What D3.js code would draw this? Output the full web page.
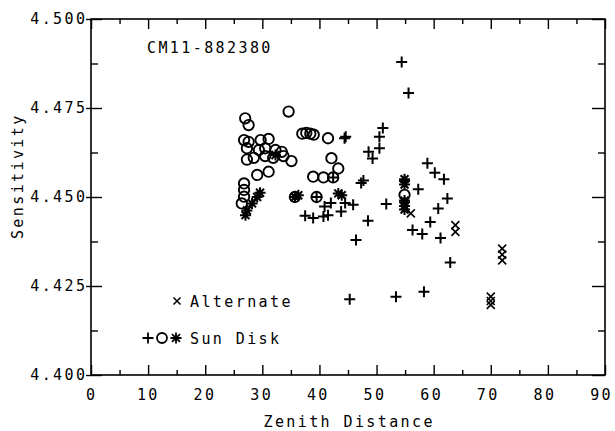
<!DOCTYPE html>
<html>
<head>
<meta charset="utf-8">
<script src="https://cdn.jsdelivr.net/npm/d3@7"></script>
<style>
  html, body { margin: 0; padding: 0; background: #fff; }
  svg { display: block; }
  text { font-family: "DejaVu Sans Mono", monospace; font-size: 15px; letter-spacing: 2.4px; fill: #000; }
</style>
</head>
<body>
<svg id="chart" width="615" height="431"></svg>
<script>
// ---------- data ----------
const xTickValues = [0, 10, 20, 30, 40, 50, 60, 70, 80, 90];
const yTickValues = [4.400, 4.425, 4.450, 4.475, 4.500];
const chartTitle = "CM11-882380";
const xLabel = "Zenith Distance";
const yLabel = "Sensitivity";
const legendAlternate = "Alternate";
const legendSunDisk = "Sun Disk";

// Sun disk "+" points [zenith distance, sensitivity]
const plusPoints = [
  [54.4, 4.4879], [55.6, 4.4792], [44.6, 4.4669], [51.1, 4.4694], [50.5, 4.4669],
  [50.5, 4.4637], [48.6, 4.4627], [49.3, 4.4608], [47.3, 4.4539], [47.7, 4.4546],
  [42.0, 4.4483], [44.5, 4.4483], [45.9, 4.4478], [41.5, 4.4449], [48.5, 4.4433],
  [46.4, 4.4379], [37.5, 4.4447], [38.9, 4.4441], [40.7, 4.4445], [40.9, 4.4473],
  [43.8, 4.4459], [42.4, 4.4555], [44.4, 4.4665], [58.9, 4.4595], [60.2, 4.4568],
  [61.8, 4.4550], [57.3, 4.4522], [62.4, 4.4496], [60.8, 4.4468], [51.7, 4.4480],
  [59.4, 4.4430], [56.3, 4.4407], [58.0, 4.4396], [61.2, 4.4385], [62.9, 4.4316],
  [58.3, 4.4234], [53.4, 4.4220], [45.3, 4.4213], [54.9, 4.4545], [54.9, 4.4485],
  [39.5, 4.4500], [35.7, 4.4500]
];
// Sun disk "O" points
const circlePoints = [
  [27.0, 4.4721], [27.6, 4.4702], [34.6, 4.4740], [26.8, 4.4660], [27.6, 4.4655],
  [29.7, 4.4660], [31.1, 4.4663], [27.3, 4.4637], [29.4, 4.4632], [30.5, 4.4637],
  [32.3, 4.4632], [33.4, 4.4627], [27.3, 4.4605], [28.5, 4.4610], [30.5, 4.4615],
  [31.9, 4.4610], [33.7, 4.4615], [35.1, 4.4601], [29.1, 4.4562], [31.1, 4.4571],
  [37.0, 4.4678], [37.7, 4.4680], [38.4, 4.4678], [39.0, 4.4675], [41.5, 4.4665],
  [42.1, 4.4609], [43.3, 4.4580], [38.9, 4.4557], [40.7, 4.4555], [42.4, 4.4555],
  [26.8, 4.4538], [26.8, 4.4520], [26.8, 4.4501], [26.4, 4.4482], [35.7, 4.4500],
  [39.5, 4.4500], [54.9, 4.4506]
];
// Sun disk asterisk points
const starPoints = [
  [27.05, 4.4449], [27.3, 4.4462], [28.2, 4.4482], [29.1, 4.4500], [29.6, 4.4512],
  [35.7, 4.4500], [36.3, 4.4505], [43.3, 4.4510], [43.9, 4.4505], [54.9, 4.4550],
  [54.9, 4.4535], [54.9, 4.4490], [54.9, 4.4475], [54.9, 4.4465], [32.3, 4.4618]
];
// Alternate "x" points
const crossPoints = [
  [56.0, 4.4454], [63.8, 4.4421], [63.8, 4.4402], [70.0, 4.4220], [70.0, 4.4208],
  [70.0, 4.4197], [72.0, 4.4355], [72.0, 4.4338], [72.0, 4.4322]
];

// ---------- layout ----------
const svg = d3.select("#chart");
const L = 91, R = 605, T = 19, B = 375;
const x = d3.scaleLinear().domain([0, 90]).range([L, R]);
const y = d3.scaleLinear().domain([4.4, 4.5]).range([B, T]);
const LS = 2.4;

// frame
svg.append("rect").attr("x", L).attr("y", T).attr("width", R - L).attr("height", B - T)
  .attr("fill", "none").attr("stroke", "#000").attr("stroke-width", 1.6);

const xMinor = d3.range(5, 90, 10);
const yMinor = d3.range(4.4125, 4.5, 0.025);

function styleAxis(g) {
  g.select(".domain").remove();
  g.selectAll("line").attr("stroke", "#000").attr("stroke-width", 1.4);
}

// bottom axis: inward ticks + labels
svg.append("g").attr("transform", `translate(0,${B})`)
  .call(d3.axisBottom(x).tickValues(xTickValues).tickSize(-10).tickPadding(14)
    .tickFormat(d => String(d)))
  .call(styleAxis)
  .call(g => g.selectAll("text").attr("font-size", null).attr("font-family", null)
      .attr("dx", (i) => (LS / 2 - 1 - 0.04 * 0) + "px"))
  .call(g => g.selectAll(".tick text").attr("dx", d => (LS / 2 - 1 - d / 22) + "px"));
svg.append("g").attr("transform", `translate(0,${B})`)
  .call(d3.axisBottom(x).tickValues(xMinor).tickSize(-5).tickFormat(""))
  .call(styleAxis);
// top axis
svg.append("g").attr("transform", `translate(0,${T})`)
  .call(d3.axisTop(x).tickValues(xTickValues).tickSize(-10).tickFormat(""))
  .call(styleAxis);
svg.append("g").attr("transform", `translate(0,${T})`)
  .call(d3.axisTop(x).tickValues(xMinor).tickSize(-5).tickFormat(""))
  .call(styleAxis);

// left axis: short outward part with labels, inward part
svg.append("g").attr("transform", `translate(${L},0)`)
  .call(d3.axisLeft(y).tickValues(yTickValues).tickSize(5).tickPadding(1)
    .tickFormat(d3.format(".3f")))
  .call(styleAxis)
  .call(g => g.selectAll("text").attr("font-size", null).attr("font-family", null)
      .attr("dx", LS + "px"));
svg.append("g").attr("transform", `translate(${L},0)`)
  .call(d3.axisLeft(y).tickValues(yTickValues).tickSize(-11).tickFormat(""))
  .call(styleAxis);
svg.append("g").attr("transform", `translate(${L},0)`)
  .call(d3.axisLeft(y).tickValues(yMinor).tickSize(-7).tickFormat(""))
  .call(styleAxis);
// right axis
svg.append("g").attr("transform", `translate(${R},0)`)
  .call(d3.axisRight(y).tickValues(yTickValues).tickSize(-13).tickFormat(""))
  .call(styleAxis);
svg.append("g").attr("transform", `translate(${R},0)`)
  .call(d3.axisRight(y).tickValues(yMinor).tickSize(-7).tickFormat(""))
  .call(styleAxis);

// axis titles
svg.append("text").attr("x", (L + R) / 2 + LS / 2).attr("y", 427)
  .attr("text-anchor", "middle").text(xLabel);
svg.append("text").attr("transform", `translate(23,${175 + LS / 2}) rotate(-90)`)
  .attr("text-anchor", "middle").text(yLabel);
svg.append("text").attr("x", 147).attr("y", 53).text(chartTitle);

// ---------- markers ----------
const marks = svg.append("g").attr("fill", "none").attr("stroke", "#000")
  .attr("stroke-linecap", "butt");

function plusPath(cx, cy, s) { return `M${cx - s},${cy}H${cx + s}M${cx},${cy - s}V${cy + s}`; }
function crossPath(cx, cy, s) {
  return `M${cx - s},${cy - s}L${cx + s},${cy + s}M${cx - s},${cy + s}L${cx + s},${cy - s}`;
}
function starPath(cx, cy, s) {
  const d = s * 0.72;
  return plusPath(cx, cy, s) + crossPath(cx, cy, d);
}

marks.selectAll(".circ").data(circlePoints).join("circle").attr("class", "circ")
  .attr("cx", d => x(d[0])).attr("cy", d => y(d[1])).attr("r", 5.2)
  .attr("stroke-width", 1.9);
marks.selectAll(".plus").data(plusPoints).join("path").attr("class", "plus")
  .attr("d", d => plusPath(x(d[0]), y(d[1]), 5.5)).attr("stroke-width", 2);
marks.selectAll(".star").data(starPoints).join("path").attr("class", "star")
  .attr("d", d => starPath(x(d[0]), y(d[1]), 5.5)).attr("stroke-width", 2);
marks.selectAll(".cross").data(crossPoints).join("path").attr("class", "cross")
  .attr("d", d => crossPath(x(d[0]), y(d[1]), 4)).attr("stroke-width", 1.6);

// ---------- legend ----------
const lg = svg.append("g");
lg.append("path").attr("d", crossPath(177, 301, 3.5)).attr("stroke", "#000")
  .attr("stroke-width", 1.5).attr("fill", "none");
lg.append("text").attr("x", 190).attr("y", 307).text(legendAlternate);
lg.append("path").attr("d", plusPath(148, 338, 5.5)).attr("stroke", "#000")
  .attr("stroke-width", 1.8).attr("fill", "none");
lg.append("circle").attr("cx", 162).attr("cy", 338).attr("r", 5)
  .attr("stroke", "#000").attr("stroke-width", 1.8).attr("fill", "none");
lg.append("path").attr("d", starPath(176, 338, 5.5)).attr("stroke", "#000")
  .attr("stroke-width", 1.8).attr("fill", "none");
lg.append("text").attr("x", 190).attr("y", 344).text(legendSunDisk);
</script>
</body>
</html>
